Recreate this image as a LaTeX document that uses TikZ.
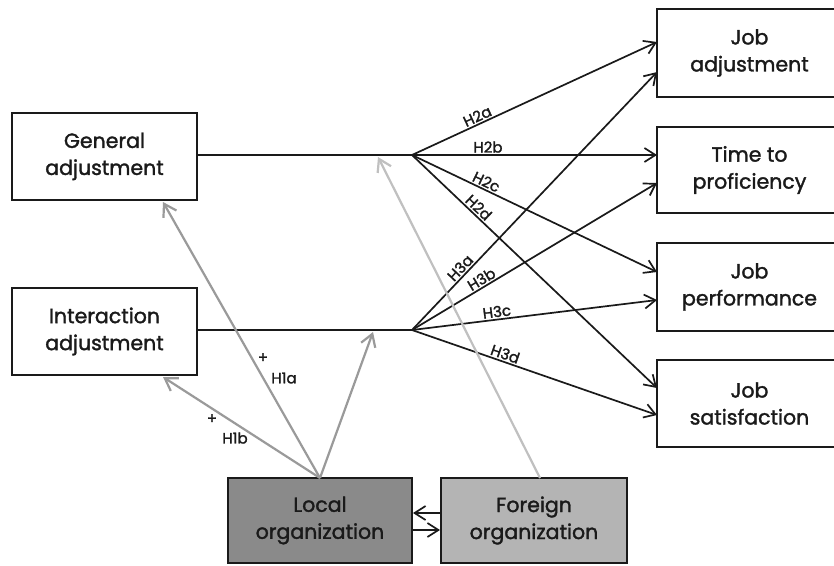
\documentclass[tikz,border=0pt]{standalone}
\usepackage{fontspec}
\setmainfont{Poppins}[FakeBold=1.6]
\usetikzlibrary{arrows.meta,calc}
\definecolor{txt}{HTML}{1A1A1A}
\definecolor{localfill}{HTML}{8A8A8A}
\definecolor{foreignfill}{HTML}{B4B4B4}
\definecolor{garrow}{HTML}{9A9A9A}
\definecolor{farrow}{HTML}{C0C0C0}
\begin{document}
\begin{tikzpicture}[x=1pt,y=-1pt,
  box/.style={draw=txt, line width=2pt, minimum width=185pt, minimum height=87pt,
    align=center, font=\fontsize{20.5}{27}\selectfont, text=txt, inner sep=0pt},
  conn/.style={draw=txt, line width=1.7pt},
  arr/.style={conn, -{Straight Barb[length=11pt,width=14pt,line width=1.7pt]}},
  garr/.style={draw=garrow, line width=2.2pt, -{Straight Barb[length=12pt,width=15pt,line width=2.2pt]}},
  farr/.style={garr, draw=farrow},
  lab/.style={font=\fontsize{15}{16}\selectfont, text=txt, inner sep=1.5pt}]

\clip (0,0) rectangle (834,565);
\fill[white] (0,0) rectangle (834,565);

% left boxes
\node[box] (gen) at (104.5,156.5) {General\\adjustment};
\node[box] (inter) at (104.5,331.5) {Interaction\\adjustment};

% right boxes
\node[box, minimum height=88pt] (jobadj) at (749.5,53) {Job\\adjustment};
\node[box, minimum height=86pt] (tp) at (749.5,170) {Time to\\proficiency};
\node[box, minimum height=88pt] (jp) at (749.5,287) {Job\\performance};
\node[box, minimum height=87pt] (js) at (749.5,403.5) {Job\\satisfaction};

% bottom boxes
\node[box, fill=localfill, minimum width=184pt, minimum height=85pt] (local) at (320,520.5) {Local\\organization};
\node[box, fill=foreignfill, minimum width=186pt, minimum height=85pt] (foreign) at (534,520.5) {Foreign\\organization};

% branch points
\coordinate (bg) at (412,155);
\coordinate (bi) at (412,330);

% arrow tips
\coordinate (t2a) at (657,42);
\coordinate (t3a) at (657,72);
\coordinate (t2b) at (657,155);
\coordinate (t3b) at (657,183);
\coordinate (t2c) at (657,272);
\coordinate (t3c) at (657,300);
\coordinate (t2d) at (657,388);
\coordinate (t3d) at (657,415);

\draw[conn] (gen.east |- bg) -- (bg);
\draw[conn] (inter.east |- bi) -- (bi);

\draw[arr] (bg) -- node[lab, pos=0.28, above, sloped] (l2a) {H2a} (t2a);
\draw[arr] (bg) -- node[lab, pos=0.31, above, sloped] (l2b) {H2b} (t2b);
\draw[arr] (bg) -- node[lab, pos=0.29, above, sloped] (l2c) {H2c} (t2c);
\draw[arr] (bg) -- node[lab, pos=0.25, above, sloped] (l2d) {H2d} (t2d);

\draw[arr] (bi) -- node[lab, pos=0.22, above, sloped] (l3a) {H3a} (t3a);
\draw[arr] (bi) -- node[lab, pos=0.30, above, sloped] (l3b) {H3b} (t3b);
\draw[arr] (bi) -- node[lab, pos=0.35, above, sloped] (l3c) {H3c} (t3c);
\draw[arr] (bi) -- node[lab, pos=0.37, above, sloped] (l3d) {H3d} (t3d);

% gray arrows
\coordinate (lo) at (320,478);
\coordinate (fo) at (540,478);
\coordinate (tg) at (163,202);
\coordinate (ti) at (163,377);
\coordinate (til) at (373,332);
\coordinate (tgl) at (378,157);

\draw[garr] (lo) -- (tg);
\draw[garr] (lo) -- (ti);
\draw[garr] (lo) -- (til);
\draw[farr] (fo) -- (tgl);

\node[lab] (p1a) at (263,358) {+};
\node[lab] (h1a) at (284,378) {H1a};
\node[lab] (p1b) at (212,419) {+};
\node[lab] (h1b) at (235,438) {H1b};

% local <-> foreign
\draw[arr] ([yshift=7.5pt]foreign.west) -- ([yshift=7.5pt]local.east);
\draw[arr] ([yshift=-9.5pt]local.east) -- ([yshift=-9.5pt]foreign.west);
\end{tikzpicture}
\end{document}
